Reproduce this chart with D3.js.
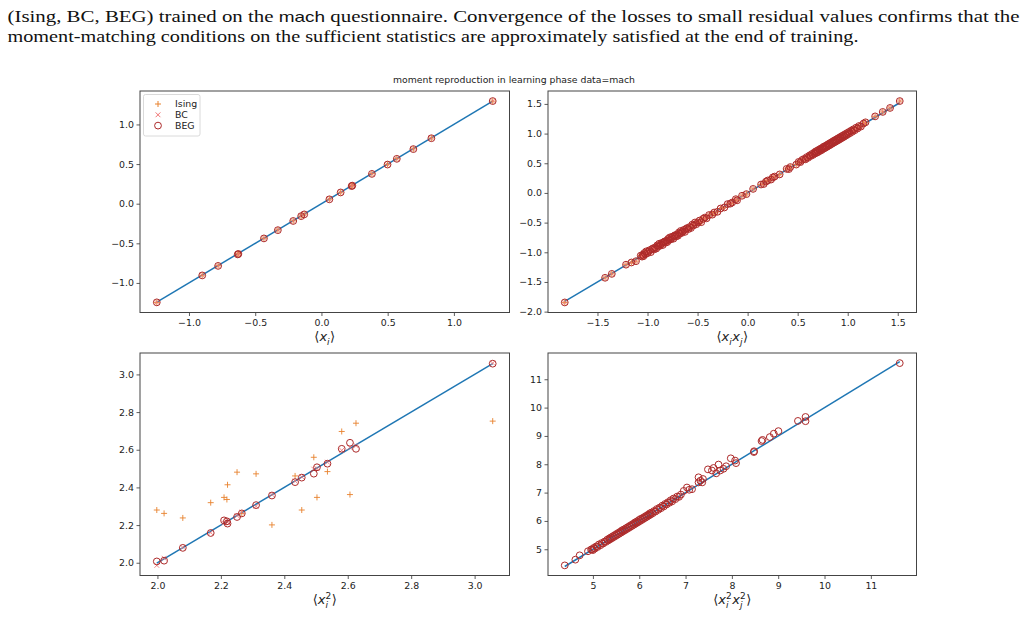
<!DOCTYPE html>
<html><head><meta charset="utf-8">
<script src="https://cdn.jsdelivr.net/npm/d3@7"></script>
<style>body{margin:0;background:#fff;} svg{display:block;}</style>
</head><body><svg id="fig" width="1027" height="618"></svg>
<script>
// ---------- data ----------
const seriesNames = ["Ising", "BC", "BEG"];
const chartTitle = "moment reproduction in learning phase data=mach";

// <x_i> : data moments and model moments
const meanData  = [-1.243,-0.900,-0.780,-0.632,-0.627,-0.434,-0.329,-0.213,-0.153,-0.130,0.060,0.145,0.228,0.233,0.381,0.499,0.569,0.694,0.830,1.293];
const meanIsing = [-1.246,-0.903,-0.782,-0.636,-0.631,-0.436,-0.331,-0.216,-0.155,-0.132,0.057,0.144,0.225,0.231,0.379,0.497,0.568,0.692,0.828,1.294];
const meanBC    = [-1.244,-0.902,-0.783,-0.638,-0.632,-0.437,-0.333,-0.217,-0.156,-0.133,0.056,0.143,0.224,0.230,0.378,0.496,0.567,0.691,0.827,1.294];
const meanBEG   = [-1.245,-0.905,-0.785,-0.640,-0.634,-0.438,-0.334,-0.218,-0.157,-0.135,0.055,0.142,0.222,0.228,0.376,0.494,0.566,0.689,0.826,1.295];

// <x_i x_j>
const pairData = [-1.827,-1.424,-1.357,-1.215,-1.161,-1.115,
 -1.068,-1.055,-1.047,-1.040,-1.031,-1.022,-1.012,-1.003,-0.992,-0.981,-0.968,-0.957,-0.945,-0.934,-0.925,-0.912,-0.903,-0.893,-0.884,-0.875,-0.866,-0.857,-0.848,-0.839,-0.830,-0.821,-0.812,-0.803,-0.794,-0.786,-0.777,-0.768,-0.759,-0.750,-0.741,-0.732,-0.723,-0.714,-0.705,-0.696,-0.687,-0.678,-0.668,-0.659,-0.648,-0.637,-0.626,-0.615,-0.603,-0.591,-0.579,-0.566,-0.553,-0.540,-0.526,-0.512,-0.497,-0.481,-0.463,-0.445,-0.428,-0.410,
 -0.385,-0.352,-0.335,-0.301,-0.270,-0.232,-0.200,-0.172,-0.155,-0.118,-0.105,-0.056,-0.012,0.055,
 0.134,0.161,0.184,0.201,0.234,0.252,0.270,0.320,0.390,0.412,0.427,0.486,0.510,0.528,0.545,
 0.562,0.578,0.591,0.604,0.618,0.630,0.641,0.652,0.662,0.671,0.680,0.689,0.697,0.705,0.713,0.721,0.729,0.737,0.745,0.752,0.759,0.766,0.773,0.780,0.787,0.794,0.801,0.808,0.815,0.822,0.829,0.836,0.843,0.850,0.857,0.864,0.871,0.878,0.885,0.892,0.899,0.906,0.913,0.920,0.928,0.936,0.944,0.952,0.960,0.968,0.977,0.986,0.995,1.004,1.013,1.023,1.034,1.045,1.057,1.070,1.084,1.098,1.113,1.132,1.158,1.178,
 1.274,1.350,1.423,1.520];
const pairBEG = [-1.845,-1.430,-1.364,-1.209,-1.172,-1.150,
 -1.056,-1.073,-1.042,-1.065,-1.011,-1.030,-0.984,-1.018,-0.992,-0.966,-0.998,-0.948,-0.933,-0.952,-0.920,-0.937,-0.883,-0.901,-0.856,-0.890,-0.866,-0.842,-0.878,-0.830,-0.818,-0.839,-0.807,-0.828,-0.774,-0.794,-0.749,-0.783,-0.759,-0.735,-0.771,-0.723,-0.711,-0.732,-0.700,-0.721,-0.667,-0.686,-0.640,-0.674,-0.648,-0.622,-0.656,-0.606,-0.591,-0.609,-0.574,-0.591,-0.533,-0.548,-0.498,-0.527,-0.497,-0.466,-0.493,-0.436,-0.416,-0.428,
 -0.372,-0.366,-0.330,-0.318,-0.262,-0.245,-0.188,-0.180,-0.162,-0.105,-0.125,-0.048,-0.020,0.068,
 0.142,0.150,0.192,0.210,0.225,0.262,0.276,0.312,0.405,0.402,0.436,0.478,0.523,0.520,0.556,
 0.572,0.566,0.604,0.592,0.631,0.622,0.655,0.640,0.676,0.662,0.700,0.676,0.712,0.690,0.730,0.708,0.745,0.720,0.758,0.740,0.778,0.750,0.788,0.766,0.800,0.778,0.818,0.794,0.830,0.806,0.845,0.822,0.858,0.836,0.873,0.850,0.888,0.862,0.900,0.878,0.915,0.890,0.928,0.905,0.944,0.920,0.960,0.936,0.975,0.952,0.992,0.970,1.010,0.990,1.028,1.008,1.050,1.030,1.072,1.056,1.100,1.085,1.128,1.118,1.170,1.190,
 1.290,1.365,1.432,1.548];
// Ising and BC pair moments are indistinguishable from BEG at this resolution
const pairIsing = pairBEG;
const pairBC = pairBEG;

// <x_i^2>
const sqData  = [1.998,2.021,2.080,2.168,2.210,2.219,2.221,2.251,2.266,2.311,2.361,2.434,2.455,2.493,2.503,2.536,2.581,2.607,2.626,3.057];
const sqIsing = [2.280,2.262,2.238,2.319,2.347,2.336,2.414,2.481,2.262,2.472,2.201,2.461,2.280,2.560,2.347,2.484,2.697,2.362,2.741,2.752];
const sqBC    = [1.986,2.024,2.082,2.160,2.212,2.219,2.214,2.250,2.268,2.300,2.362,2.434,2.456,2.497,2.500,2.534,2.597,2.612,2.622,3.060];
const sqBEG   = [2.007,2.011,2.079,2.158,2.225,2.220,2.208,2.243,2.262,2.306,2.357,2.428,2.452,2.473,2.507,2.526,2.605,2.637,2.605,3.057];

// <x_i^2 x_j^2> (BEG only)
const quadData = [4.392,4.621,4.714,4.893,4.960,
 4.98,5.00,5.02,5.04,5.07,5.10,5.13,5.16,5.19,5.22,5.25,5.28,5.31,5.33,5.35,5.37,5.39,5.41,5.43,5.45,5.47,5.49,5.51,5.53,5.55,5.57,5.59,5.61,5.63,5.65,5.67,5.69,5.71,5.73,5.75,5.77,5.79,5.81,5.83,5.85,5.87,5.89,5.91,5.93,5.95,5.97,5.99,6.01,6.03,6.05,6.07,6.09,6.11,6.13,6.15,6.17,6.19,6.21,6.23,6.25,6.27,6.29,6.32,6.35,6.38,6.41,6.44,6.47,6.50,6.53,6.56,6.59,6.62,6.65,6.68,6.71,6.74,6.78,6.82,6.86,6.90,
 6.96,7.03,7.08,7.14,7.28,7.28,7.32,7.36,7.376,7.483,7.569,7.605,7.662,7.712,7.748,7.819,7.876,7.976,8.069,8.09,8.475,8.48,8.64,8.662,8.819,8.905,9.005,9.426,9.59,9.59,11.624];
const quadBEG = [4.431,4.633,4.786,4.930,4.990,
 5.00,4.97,5.05,5.02,5.10,5.08,5.17,5.14,5.22,5.20,5.27,5.26,5.34,5.31,5.38,5.35,5.42,5.39,5.46,5.43,5.50,5.47,5.54,5.51,5.58,5.55,5.62,5.59,5.67,5.63,5.70,5.67,5.74,5.71,5.78,5.75,5.82,5.79,5.86,5.83,5.90,5.87,5.95,5.91,5.98,5.95,6.03,5.99,6.07,6.03,6.10,6.07,6.14,6.11,6.18,6.15,6.22,6.19,6.27,6.23,6.30,6.27,6.35,6.33,6.42,6.39,6.47,6.45,6.54,6.51,6.60,6.58,6.66,6.64,6.73,6.69,6.79,6.77,6.86,6.85,6.93,
 7.06,7.18,7.10,7.12,7.36,7.54,7.42,7.36,7.48,7.82,7.78,7.87,7.68,7.99,7.78,7.84,7.93,8.21,8.13,8.04,8.43,8.46,8.82,8.86,8.96,9.08,9.17,9.53,9.67,9.52,11.57];

// tick values
const meanTicks = [-1.0,-0.5,0.0,0.5,1.0];
const pairXTicks = [-1.5,-1.0,-0.5,0.0,0.5,1.0,1.5];
const pairYTicks = [-2.0,-1.5,-1.0,-0.5,0.0,0.5,1.0,1.5];
const sqTicks = [2.0,2.2,2.4,2.6,2.8,3.0];
const quadTicks = [5,6,7,8,9,10,11];

// ---------- styling ----------
const COL = {Ising:"#e8822e", BC:"#f07474", BEG:"#ad2a2a", line:"#1f77b4"};
const svg = d3.select("#fig");
const FONT = "DejaVu Sans";

// caption text above the figure
const cap = svg.append("g").attr("font-family","Liberation Serif").attr("font-size",16.5).attr("fill","#111");
const l2 = cap.append("text").attr("x",7.5).attr("y",21.5).attr("textLength",1012).attr("lengthAdjust","spacingAndGlyphs");
l2.append("tspan").text("(Ising, BC, BEG) trained on the ");
l2.append("tspan").attr("font-family","Liberation Sans").attr("font-size",15).text("mach");
l2.append("tspan").text(" questionnaire.  Convergence of the losses to small residual values confirms that the");
cap.append("text").attr("x",7.5).attr("y",42).attr("textLength",851).attr("lengthAdjust","spacingAndGlyphs")
  .text("moment-matching conditions on the sufficient statistics are approximately satisfied at the end of training.");

svg.append("text").attr("x",514).attr("y",83).attr("text-anchor","middle")
  .attr("font-family",FONT).attr("font-size",9.3).attr("fill","#222").text(chartTitle);

function marker(g, type, color){
  if(type==="plus") return g.append("path").attr("d","M-3,0H3M0,-3V3").attr("stroke",color).attr("stroke-width",1).attr("fill","none");
  if(type==="cross") return g.append("path").attr("d","M-2.4,-2.4L2.4,2.4M-2.4,2.4L2.4,-2.4").attr("stroke",color).attr("stroke-width",1).attr("fill","none");
  return g.append("circle").attr("r",3.4).attr("stroke",color).attr("stroke-width",1).attr("fill","none");
}

function mathLabel(parent, cx, y, pieces){
  const g = parent.append("g").attr("font-family",FONT).attr("fill","#222");
  let x = 0;
  pieces.forEach(p=>{
    if(p.stack){
      const a = g.append("text").attr("x",x).attr("y",y+3.8).attr("font-size",9).attr("font-style","italic").text(p.sub);
      const b = g.append("text").attr("x",x).attr("y",y-5.5).attr("font-size",9).text(p.sup);
      x += Math.max(a.node().getComputedTextLength(), b.node().getComputedTextLength()) + 0.5;
    } else if(p.sub){
      const a = g.append("text").attr("x",x).attr("y",y+3.8).attr("font-size",9).attr("font-style","italic").text(p.sub);
      x += a.node().getComputedTextLength() + 0.5;
    } else {
      const a = g.append("text").attr("x",x).attr("y",y).attr("font-size",13).attr("font-style",p.it?"italic":"normal").text(p.t);
      x += a.node().getComputedTextLength();
    }
  });
  g.attr("transform",`translate(${cx - x/2},0)`);
}

function panel(box, xData, series, xTicks, yTicks, fmt, label){
  const g = svg.append("g");
  const allY = series.flatMap(s=>s.ys);
  const [x0,x1] = d3.extent(xData), [y0,y1] = d3.extent(allY);
  const px = (x1-x0)*0.05, py = (y1-y0)*0.05;
  const x = d3.scaleLinear().domain([x0-px, x1+px]).range([box.l, box.r]);
  const y = d3.scaleLinear().domain([y0-py, y1+py]).range([box.b, box.t]);

  // identity reference line over the data range
  g.append("path").datum([[x0,x0],[x1,x1]])
    .attr("d", d3.line().x(d=>x(d[0])).y(d=>y(d[1])))
    .attr("stroke",COL.line).attr("stroke-width",1.5).attr("fill","none");

  series.forEach(s=>{
    const sg = g.append("g");
    xData.forEach((xv,i)=>{
      const m = sg.append("g").attr("transform",`translate(${x(xv)},${y(s.ys[i])})`);
      marker(m, s.type, COL[s.name]).attr("opacity", s.op);
    });
  });

  const ax = g.append("g").attr("transform",`translate(0,${box.b})`)
    .call(d3.axisBottom(x).tickValues(xTicks).tickFormat(d3.format(fmt)).tickSize(3.5).tickPadding(3));
  const ay = g.append("g").attr("transform",`translate(${box.l},0)`)
    .call(d3.axisLeft(y).tickValues(yTicks).tickFormat(d3.format(fmt)).tickSize(3.5).tickPadding(2.5));
  [ax,ay].forEach(a=>{
    a.select(".domain").remove();
    a.selectAll("text").attr("font-family",FONT).attr("font-size",9.4).attr("fill","#222");
    a.selectAll("line").attr("stroke","#333").attr("stroke-width",0.8);
  });
  g.append("rect").attr("x",box.l).attr("y",box.t).attr("width",box.r-box.l).attr("height",box.b-box.t)
    .attr("fill","none").attr("stroke","#444").attr("stroke-width",1);
  mathLabel(svg, (box.l+box.r)/2, box.b + label.dy, label.pieces);
  return g;
}

const boxTL = {l:140, r:509.5, t:91, b:312.5};
const boxTR = {l:548, r:916.5, t:91, b:312.5};
const boxBL = {l:140, r:509.5, t:353, b:575.5};
const boxBR = {l:548, r:916.5, t:353, b:575.5};

const threeSeries = (a,b,c)=>[
  {name:"Ising", ys:a, type:"plus", op:0.9},
  {name:"BC", ys:b, type:"cross", op:0.85},
  {name:"BEG", ys:c, type:"circle", op:1}
];

panel(boxTL, meanData, threeSeries(meanIsing, meanBC, meanBEG), meanTicks, meanTicks, ".1f",
  {dy:28.5, pieces:[{t:"⟨"},{t:"x",it:true},{sub:"i"},{t:"⟩"}]});
panel(boxTR, pairData, threeSeries(pairIsing, pairBC, pairBEG), pairXTicks, pairYTicks, ".1f",
  {dy:28.5, pieces:[{t:"⟨"},{t:"x",it:true},{sub:"i"},{t:"x",it:true},{sub:"j"},{t:"⟩"}]});
panel(boxBL, sqData, threeSeries(sqIsing, sqBC, sqBEG), sqTicks, sqTicks, ".1f",
  {dy:28.5, pieces:[{t:"⟨"},{t:"x",it:true},{stack:true,sub:"i",sup:"2"},{t:"⟩"}]});
panel(boxBR, quadData, [{name:"BEG", ys:quadBEG, type:"circle", op:1}], quadTicks, quadTicks, "d",
  {dy:28.5, pieces:[{t:"⟨"},{t:"x",it:true},{stack:true,sub:"i",sup:"2"},{t:"x",it:true},{stack:true,sub:"j",sup:"2"},{t:"⟩"}]});

// legend (top-left panel)
const lg = svg.append("g");
lg.append("rect").attr("x",143.5).attr("y",94.5).attr("width",56.5).attr("height",41.5).attr("rx",2)
  .attr("fill","#fff").attr("fill-opacity",0.8).attr("stroke","#d0d0d0").attr("stroke-width",0.8);
const legendTypes = {Ising:"plus", BC:"cross", BEG:"circle"};
seriesNames.forEach((n,i)=>{
  const yy = 104 + i*10.8;
  const m = lg.append("g").attr("transform",`translate(158,${yy})`);
  marker(m, legendTypes[n], COL[n]);
  lg.append("text").attr("x",175).attr("y",yy).attr("dy","0.35em").attr("font-family",FONT)
    .attr("font-size",9.4).attr("fill","#222").text(n);
});
</script></body></html>
